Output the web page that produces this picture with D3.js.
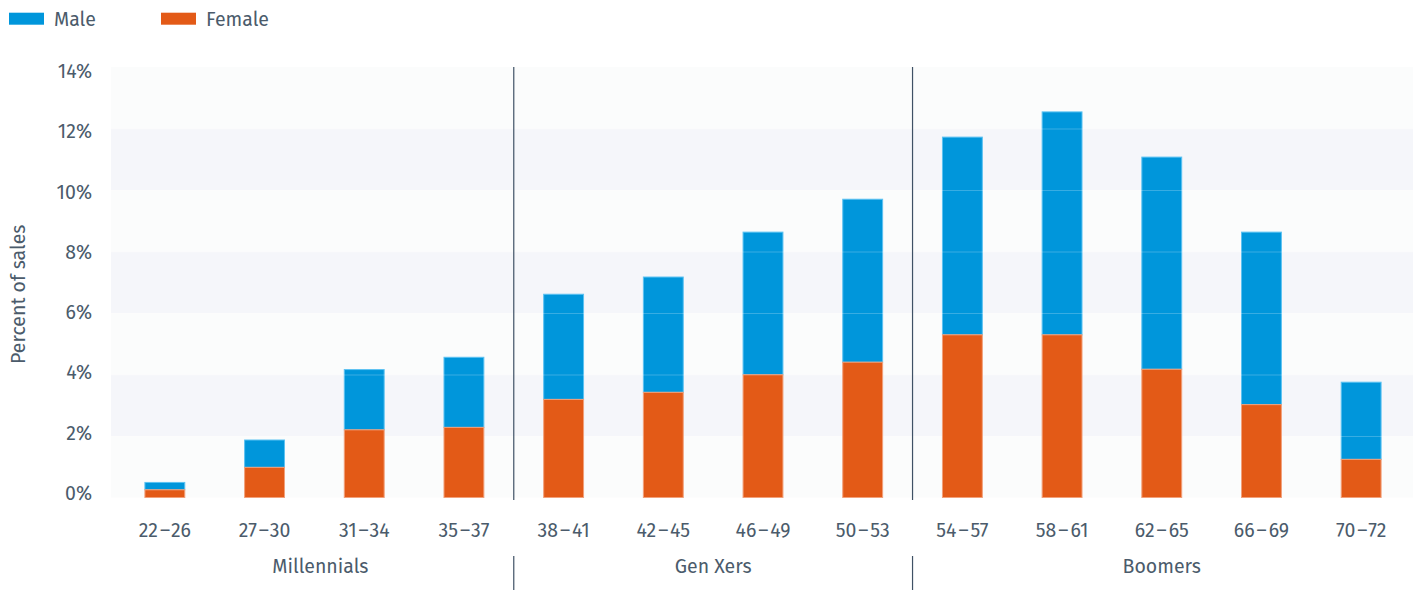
<!DOCTYPE html>
<html>
<head>
<meta charset="utf-8">
<script src="https://cdn.jsdelivr.net/npm/d3@7"></script>
<style>
  html, body { margin: 0; padding: 0; background: #ffffff; }
  svg { display: block; }
  svg text { font-family: "Fira Sans", "Open Sans", "Noto Sans", sans-serif; }
</style>
</head>
<body>
<svg id="chart" width="1416" height="590"></svg>
<script>
const categories = ["22–26","27–30","31–34","35–37","38–41","42–45","46–49","50–53","54–57","58–61","62–65","66–69","70–72"];
const female = [0.25, 0.98, 2.20, 2.28, 3.19, 3.42, 3.99, 4.40, 5.29, 5.29, 4.17, 3.02, 1.24];
const male   = [0.24, 0.89, 1.96, 2.28, 3.42, 3.75, 4.64, 5.30, 6.43, 7.25, 6.90, 5.61, 2.51];
const groups = [
  { name: "Millennials", first: "22–26", last: "35–37" },
  { name: "Gen Xers",    first: "38–41", last: "50–53" },
  { name: "Boomers",     first: "54–57", last: "70–72" }
];
const yTicks = [0, 2, 4, 6, 8, 10, 12, 14];
const seriesNames = ["Male", "Female"];

const colors = { Male: "#0096db", Female: "#e35a17" };
const textColor = "#4b5b6b";
const fontFamily = '"Fira Sans", "Open Sans", "Noto Sans", sans-serif';
const fs = 19.5;

const svg = d3.select("#chart");
const plot = { left: 111, right: 1413, top: 67, bottom: 497.5 };

const x = d3.scaleBand().domain(categories).range([115, 1411]).paddingInner(0.6).paddingOuter(0.3);
const y = d3.scaleLinear().domain([0, 14]).range([plot.bottom, plot.top]);
const yLabel = y.copy().range([plot.bottom - 4.5, plot.top + 4.5]);

// background bands
const bandData = d3.pairs(yTicks);
svg.append("g").selectAll("rect").data(bandData).join("rect")
  .attr("x", plot.left)
  .attr("width", plot.right - plot.left)
  .attr("y", d => y(d[1]))
  .attr("height", d => y(d[0]) - y(d[1]))
  .attr("fill", (d, i) => i % 2 === 1 ? "#f5f6fa" : "#fbfcfc");

// y axis labels
const yAxis = d3.axisLeft(yLabel).tickValues(yTicks).tickFormat(d => d + "%").tickSize(0).tickPadding(0);
const yg = svg.append("g").attr("transform", "translate(92,0)").call(yAxis)
  .attr("font-family", fontFamily).attr("font-size", fs);
yg.select(".domain").remove();
yg.selectAll("text").attr("fill", textColor);

// y title
svg.append("text")
  .attr("transform", `translate(25,${(plot.top + plot.bottom) / 2 + 12}) rotate(-90)`)
  .attr("text-anchor", "middle")
  .attr("fill", textColor)
  .attr("font-size", fs)
  .text("Percent of sales");

const stacked = categories.map((c, i) => ({ c, f: female[i], m: male[i] }));

// male (top) bars
svg.append("g").selectAll("rect").data(stacked).join("rect")
  .attr("x", d => x(d.c))
  .attr("width", x.bandwidth())
  .attr("y", d => y(d.f + d.m))
  .attr("height", d => y(d.f) - y(d.f + d.m))
  .attr("fill", colors.Male)
  .attr("stroke", "#5cc2f2")
  .attr("stroke-width", 1);

// faint gridlines over bars
svg.append("g").selectAll("line").data(yTicks.slice(1, -1)).join("line")
  .attr("x1", plot.left).attr("x2", plot.right)
  .attr("y1", d => y(d) + 0.5).attr("y2", d => y(d) + 0.5)
  .attr("stroke", "#ffffff").attr("stroke-opacity", 0.22).attr("stroke-width", 1);

// female (bottom) bars
svg.append("g").selectAll("rect").data(stacked).join("rect")
  .attr("x", d => x(d.c))
  .attr("width", x.bandwidth())
  .attr("y", d => y(d.f))
  .attr("height", d => y(0) - y(d.f))
  .attr("fill", colors.Female)
  .attr("stroke", "#f2a07a")
  .attr("stroke-width", 1);

// x axis labels
const xAxis = d3.axisBottom(x).tickSize(0).tickPadding(0);
const xg = svg.append("g").attr("transform", "translate(0,537)").call(xAxis)
  .attr("font-family", fontFamily).attr("font-size", fs);
xg.select(".domain").remove();
xg.selectAll("text").attr("fill", textColor).attr("dy", 0)
  .each(function(d) {
    const parts = d.split("–");
    const t = d3.select(this).text(null);
    t.append("tspan").text(parts[0]);
    t.append("tspan").attr("dx", 2).text("–");
    t.append("tspan").attr("dx", 2).text(parts[1]);
  });

// group separators and labels
const step = x.step();
groups.forEach((g, i) => {
  const left = x(g.first) - (step - x.bandwidth()) / 2;
  const cx = (x(g.first) + x(g.last) + x.bandwidth()) / 2 + (i === 0 ? 6 : 0);
  svg.append("text")
    .attr("x", cx).attr("y", 573)
    .attr("text-anchor", "middle")
    .attr("fill", textColor).attr("font-size", fs)
    .text(g.name);
  if (i > 0) {
    [[plot.top, plot.bottom + 2.5], [556, 590]].forEach(([a, b]) => {
      svg.append("line")
        .attr("x1", left).attr("x2", left)
        .attr("y1", a).attr("y2", b)
        .attr("stroke", "#3f5165").attr("stroke-width", 1.2);
    });
  }
});

// legend
const legend = svg.append("g");
const legendX = [9, 161];
seriesNames.forEach((s, i) => {
  legend.append("rect").attr("x", legendX[i]).attr("y", 12.7).attr("width", 35).attr("height", 12).attr("fill", colors[s]);
  legend.append("text").attr("x", legendX[i] + 45).attr("y", 25.5).attr("fill", textColor).attr("font-size", fs).text(s);
});
</script>
</body>
</html>
